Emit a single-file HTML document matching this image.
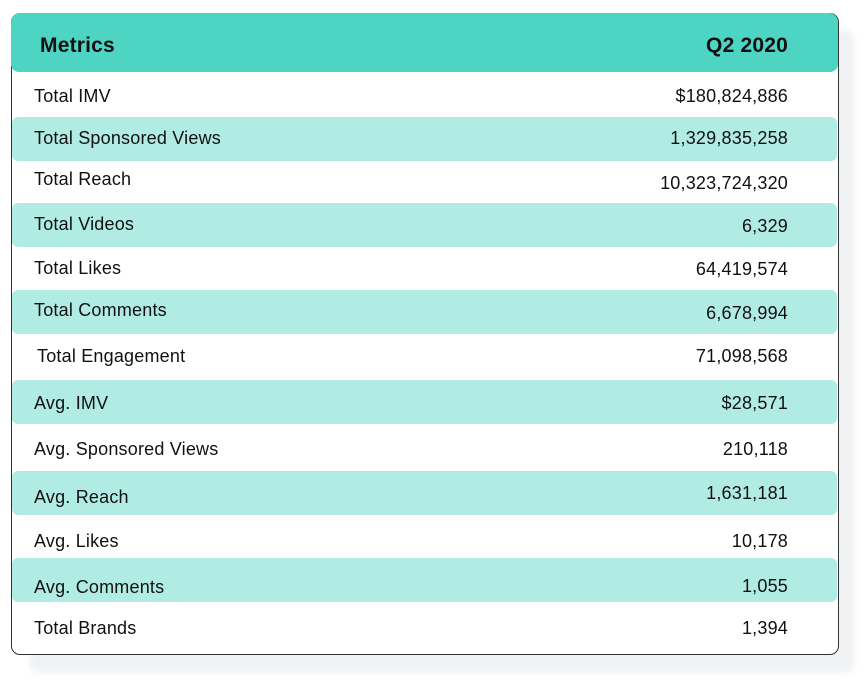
<!DOCTYPE html>
<html><head><meta charset="utf-8"><style>
body{margin:0;width:864px;height:688px;background:#fff;font-family:"Liberation Sans",sans-serif;position:relative;overflow:hidden}
.shadow{position:absolute;left:30px;top:30px;width:824px;height:643px;background:#f0f2f3;border-radius:10px;filter:blur(3px)}
.card{position:absolute;left:11px;top:13px;width:826px;height:640px;background:#fff;border:1px solid #333;border-radius:9px}
.hdr{position:absolute;left:11px;top:13px;width:827px;height:59px;background:#4dd4c2;border-radius:9px 9px 8px 8px}
.band{position:absolute;left:12px;width:825px;height:44px;background:#b0ece4;border-radius:6px}
.t{position:absolute;font-size:18px;color:#111;line-height:20px;white-space:nowrap;letter-spacing:0.2px}
.l{left:34px}.r{right:76px;text-align:right}
.h{font-weight:bold;font-size:21px;top:36px}
</style></head><body>
<div class="shadow"></div>
<div class="card"></div>
<div class="hdr"></div>
<div class="t h" style="left:40px">Metrics</div>
<div class="t h r">Q2 2020</div>
<div class="band" style="top:117px"></div>
<div class="band" style="top:203px"></div>
<div class="band" style="top:290px"></div>
<div class="band" style="top:380px"></div>
<div class="band" style="top:471px"></div>
<div class="band" style="top:558px"></div>

<div class="t l" style="top:86px">Total IMV</div>
<div class="t r" style="top:86px">$180,824,886</div>
<div class="t l" style="top:128px">Total Sponsored Views</div>
<div class="t r" style="top:128px">1,329,835,258</div>
<div class="t l" style="top:169px">Total Reach</div>
<div class="t r" style="top:173px">10,323,724,320</div>
<div class="t l" style="top:214px">Total Videos</div>
<div class="t r" style="top:216px">6,329</div>
<div class="t l" style="top:258px">Total Likes</div>
<div class="t r" style="top:259px">64,419,574</div>
<div class="t l" style="top:300px">Total Comments</div>
<div class="t r" style="top:303px">6,678,994</div>
<div class="t l" style="top:346px;left:37px">Total Engagement</div>
<div class="t r" style="top:346px">71,098,568</div>
<div class="t l" style="top:393px">Avg. IMV</div>
<div class="t r" style="top:393px">$28,571</div>
<div class="t l" style="top:439px">Avg. Sponsored Views</div>
<div class="t r" style="top:439px">210,118</div>
<div class="t l" style="top:487px">Avg. Reach</div>
<div class="t r" style="top:483px">1,631,181</div>
<div class="t l" style="top:531px">Avg. Likes</div>
<div class="t r" style="top:531px">10,178</div>
<div class="t l" style="top:577px">Avg. Comments</div>
<div class="t r" style="top:576px">1,055</div>
<div class="t l" style="top:618px">Total Brands</div>
<div class="t r" style="top:618px">1,394</div>
</body></html>
